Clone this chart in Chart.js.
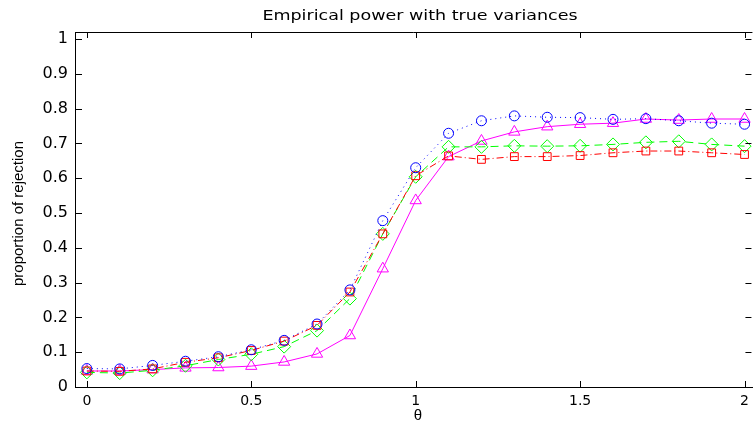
<!DOCTYPE html>
<html>
<head>
<meta charset="utf-8">
<script src="https://cdn.jsdelivr.net/npm/chart.js@4.4.1/dist/chart.umd.min.js"></script>
<style>
  html, body { margin: 0; padding: 0; background: #fff; }
  #wrap { width: 755px; height: 423px; }
</style>
</head>
<body>
<div id="wrap"><canvas id="powerChart" width="755" height="423"></canvas></div>
<script>
const theta = [0, 0.1, 0.2, 0.3, 0.4, 0.5, 0.6, 0.7, 0.8, 0.9, 1.0, 1.1, 1.2, 1.3, 1.4, 1.5, 1.6, 1.7, 1.8, 1.9, 2.0];
const blueVals = [0.053, 0.052, 0.062, 0.074, 0.087, 0.107, 0.134, 0.181, 0.279, 0.478, 0.630, 0.729, 0.765, 0.779, 0.775, 0.774, 0.769, 0.771, 0.765, 0.758, 0.755];
const redVals = [0.046, 0.045, 0.052, 0.071, 0.084, 0.105, 0.132, 0.177, 0.273, 0.440, 0.607, 0.664, 0.654, 0.662, 0.662, 0.665, 0.673, 0.678, 0.678, 0.673, 0.668];
const greenVals = [0.042, 0.040, 0.048, 0.061, 0.079, 0.094, 0.116, 0.162, 0.254, 0.440, 0.604, 0.690, 0.690, 0.693, 0.692, 0.693, 0.697, 0.703, 0.706, 0.697, 0.692];
const magentaVals = [0.046, 0.046, 0.050, 0.055, 0.056, 0.060, 0.072, 0.095, 0.148, 0.340, 0.536, 0.662, 0.707, 0.733, 0.748, 0.755, 0.758, 0.770, 0.767, 0.770, 0.770];
const xTicks = [0, 0.5, 1, 1.5, 2];
const yTicks = [0, 0.1, 0.2, 0.3, 0.4, 0.5, 0.6, 0.7, 0.8, 0.9, 1];

function pts(vals) {
  return theta.map((t, i) => ({ x: t, y: vals[i] }));
}

function series(vals, color, style, radius, dash) {
  return {
    data: pts(vals),
    borderColor: color,
    backgroundColor: "rgba(0,0,0,0)",
    borderWidth: 1,
    borderDash: dash,
    pointStyle: style,
    pointRadius: radius,
    pointBorderColor: color,
    pointBorderWidth: 1,
    pointBackgroundColor: "rgba(0,0,0,0)",
    tension: 0,
    fill: false,
  };
}

// box, inward tick marks and the text around the axes
const frame = {
  id: "frame",
  afterDraw(chart) {
    const ctx = chart.ctx;
    const a = chart.chartArea;
    const xs = chart.scales.x;
    const ys = chart.scales.y;
    ctx.save();
    ctx.strokeStyle = "#000";
    ctx.lineWidth = 1;
    ctx.beginPath();
    ctx.moveTo(a.left, a.top + 0.5);
    ctx.lineTo(a.right, a.top + 0.5);
    xTicks.forEach(function (v) {
      const px = Math.round(xs.getPixelForValue(v)) + 0.5;
      ctx.moveTo(px, a.bottom);
      ctx.lineTo(px, a.bottom - 6);
      ctx.moveTo(px, a.top);
      ctx.lineTo(px, a.top + 6);
    });
    yTicks.forEach(function (v) {
      const py = Math.round(ys.getPixelForValue(v)) + 0.5;
      ctx.moveTo(a.left, py);
      ctx.lineTo(a.left + 7, py);
      ctx.moveTo(a.right - 1, py);
      ctx.lineTo(a.right - 7, py);
    });
    ctx.stroke();

    ctx.fillStyle = "#000";
    ctx.textAlign = "center";
    ctx.textBaseline = "middle";
    ctx.font = "15px 'Liberation Sans'";
    ctx.fillText("\u03b8", 418, 416);

    ctx.save();
    ctx.translate(420, 16);
    ctx.scale(1.25, 1);
    ctx.font = "14px 'DejaVu Sans'";
    ctx.fillText("Empirical power with true variances", 0, 0);
    ctx.restore();

    ctx.translate(19, (a.top + a.bottom) / 2 + 4);
    ctx.rotate(-Math.PI / 2);
    ctx.font = "15px 'Liberation Sans'";
    ctx.fillText("proportion of rejection", 0, 0);
    ctx.restore();
  },
};

new Chart(document.getElementById("powerChart"), {
  type: "line",
  data: {
    datasets: [
      series(blueVals, "#0000ff", "circle", 5, [1, 4]),
      series(redVals, "#ff0000", "rect", 5.5, [7, 3, 1, 3]),
      series(greenVals, "#00ff00", "rectRot", 6.5, [8, 5]),
      series(magentaVals, "#ff00ff", "triangle", 6.5, []),
    ],
  },
  options: {
    responsive: false,
    animation: false,
    layout: { autoPadding: false, padding: { top: 32, right: 0, left: 0, bottom: 0 } },
    plugins: {
      legend: { display: false },
      title: { display: false },
      tooltip: { enabled: false },
    },
    scales: {
      x: {
        type: "linear",
        min: -0.036,
        max: 2.024,
        afterBuildTicks: (s) => { s.ticks = xTicks.map((v) => ({ value: v })); },
        afterFit: (s) => { s.height = 36; },
        grid: { display: false, drawTicks: false },
        border: { display: true, color: "#000", width: 1 },
        ticks: {
          padding: 6,
          color: "#000",
          font: { family: "DejaVu Sans", size: 14 },
          maxRotation: 0,
          callback: (v) => String(v),
        },
      },
      y: {
        min: 0,
        max: 1.02,
        afterBuildTicks: (s) => { s.ticks = yTicks.map((v) => ({ value: v })); },
        afterFit: (s) => { s.width = 75; },
        grid: { display: false, drawTicks: false },
        border: { display: true, color: "#000", width: 1 },
        ticks: {
          padding: 7,
          color: "#000",
          font: { family: "DejaVu Sans", size: 16 },
          callback: (v) => String(+v.toFixed(1)),
        },
      },
    },
  },
  plugins: [frame],
});
</script>
</body>
</html>
